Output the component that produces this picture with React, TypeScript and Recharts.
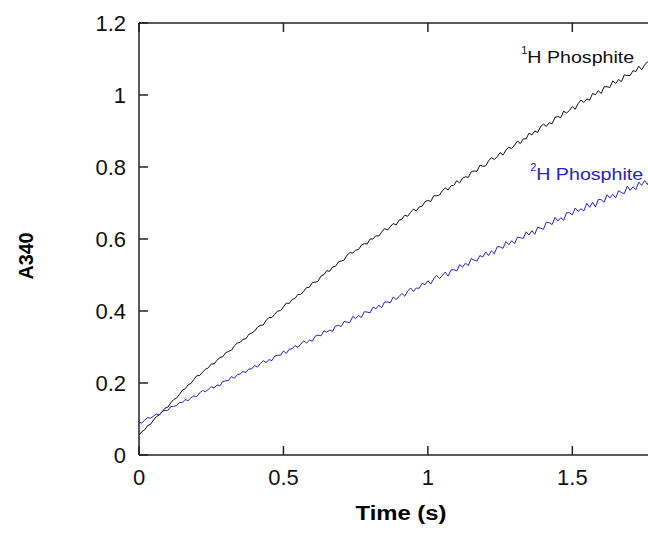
import React from "react";
import { LineChart, Line, XAxis, YAxis, ReferenceDot } from "recharts";

// Time axis (s), sampled every 0.01 s
const TIME_STEP = 0.01;

// 1H Phosphite trace (A340)
const h1Phosphite = [
  0.055, 0.065, 0.070, 0.082, 0.085, 0.097, 0.107, 0.111, 0.120, 0.130,
  0.133, 0.145, 0.154, 0.158, 0.168, 0.180, 0.184, 0.195, 0.199, 0.210,
  0.220, 0.221, 0.230, 0.238, 0.242, 0.253, 0.253, 0.263, 0.271, 0.273,
  0.284, 0.288, 0.291, 0.303, 0.311, 0.313, 0.321, 0.323, 0.335, 0.339,
  0.344, 0.355, 0.360, 0.361, 0.374, 0.382, 0.382, 0.391, 0.400, 0.401,
  0.411, 0.422, 0.421, 0.432, 0.435, 0.446, 0.446, 0.455, 0.465, 0.466,
  0.479, 0.480, 0.483, 0.497, 0.501, 0.512, 0.510, 0.522, 0.524, 0.536,
  0.539, 0.541, 0.555, 0.562, 0.561, 0.569, 0.571, 0.583, 0.587, 0.586,
  0.600, 0.600, 0.609, 0.608, 0.619, 0.629, 0.625, 0.634, 0.643, 0.639,
  0.652, 0.655, 0.666, 0.663, 0.674, 0.683, 0.678, 0.689, 0.691, 0.704,
  0.707, 0.704, 0.720, 0.720, 0.722, 0.734, 0.742, 0.736, 0.748, 0.749,
  0.762, 0.756, 0.769, 0.773, 0.771, 0.787, 0.789, 0.788, 0.805, 0.802,
  0.803, 0.817, 0.826, 0.821, 0.829, 0.840, 0.833, 0.847, 0.855, 0.851,
  0.861, 0.872, 0.865, 0.878, 0.878, 0.894, 0.889, 0.900, 0.896, 0.912,
  0.919, 0.913, 0.923, 0.920, 0.938, 0.940, 0.937, 0.955, 0.950, 0.957,
  0.968, 0.960, 0.976, 0.986, 0.979, 0.989, 0.986, 1.004, 1.001, 1.012,
  1.004, 1.023, 1.023, 1.021, 1.039, 1.032, 1.043, 1.037, 1.056, 1.054,
  1.054, 1.068, 1.065, 1.080, 1.070, 1.083, 1.092, 1.084, 1.096, 1.106,
  1.100,
];

// 2H Phosphite trace (A340)
const h2Phosphite = [
  0.090, 0.089, 0.097, 0.104, 0.102, 0.108, 0.114, 0.111, 0.121, 0.124,
  0.124, 0.135, 0.135, 0.137, 0.146, 0.146, 0.154, 0.151, 0.159, 0.164,
  0.162, 0.173, 0.179, 0.176, 0.182, 0.190, 0.186, 0.195, 0.192, 0.204,
  0.206, 0.207, 0.218, 0.213, 0.223, 0.225, 0.232, 0.229, 0.239, 0.239,
  0.249, 0.244, 0.254, 0.262, 0.257, 0.265, 0.262, 0.275, 0.277, 0.277,
  0.289, 0.282, 0.294, 0.295, 0.304, 0.299, 0.308, 0.317, 0.311, 0.319,
  0.316, 0.330, 0.333, 0.331, 0.345, 0.341, 0.347, 0.343, 0.358, 0.360,
  0.357, 0.371, 0.369, 0.368, 0.385, 0.379, 0.387, 0.382, 0.398, 0.397,
  0.395, 0.411, 0.406, 0.416, 0.409, 0.425, 0.425, 0.423, 0.439, 0.432,
  0.440, 0.449, 0.441, 0.455, 0.464, 0.454, 0.464, 0.463, 0.477, 0.473,
  0.484, 0.475, 0.489, 0.499, 0.490, 0.498, 0.508, 0.497, 0.514, 0.515,
  0.511, 0.529, 0.522, 0.533, 0.526, 0.546, 0.541, 0.539, 0.554, 0.550,
  0.564, 0.554, 0.567, 0.559, 0.579, 0.578, 0.574, 0.593, 0.584, 0.595,
  0.587, 0.605, 0.604, 0.601, 0.620, 0.611, 0.623, 0.613, 0.633, 0.630,
  0.627, 0.647, 0.645, 0.640, 0.660, 0.650, 0.659, 0.652, 0.673, 0.673,
  0.667, 0.686, 0.677, 0.684, 0.678, 0.699, 0.688, 0.702, 0.689, 0.710,
  0.709, 0.702, 0.723, 0.714, 0.724, 0.714, 0.734, 0.729, 0.726, 0.747,
  0.735, 0.745, 0.737, 0.758, 0.749, 0.762, 0.751, 0.772, 0.760, 0.771,
  0.780,
];

const xTicks = [0, 0.5, 1, 1.5];
const yTicks = [0, 0.2, 0.4, 0.6, 0.8, 1, 1.2];
const xDomain = [0, 1.8];
const yDomain = [0, 1.2];

const label1 = { sup: "1", text: "H Phosphite", t: 1.344, a: 1.089 };
const label2 = { sup: "2", text: "H Phosphite", t: 1.375, a: 0.764 };

const data = h1Phosphite.map((v, i) => ({
  t: +(i * TIME_STEP).toFixed(2),
  h1: v,
  h2: h2Phosphite[i],
}));

const FONT = "'Liberation Sans', Arial, Helvetica, sans-serif";
const AXIS = "#222";
const BLUE = "#2323cc";

const BottomTick = (props: any) => {
  const { x, y, payload } = props;
  const ay = y - 30;
  return (
    <g>
      <line x1={x} x2={x} y1={ay} y2={ay - 9} stroke={AXIS} strokeWidth={1.5} />
      <text x={x} y={ay + 30} textAnchor="middle" fontSize={22} fontFamily={FONT} fill="#111">
        {String(payload.value)}
      </text>
    </g>
  );
};

const TopTick = (props: any) => {
  const { x, y } = props;
  return <line x1={x} x2={x} y1={y} y2={y + 9} stroke={AXIS} strokeWidth={1.5} />;
};

const LeftTick = (props: any) => {
  const { x, y, payload } = props;
  const ax = x + 13;
  return (
    <g>
      <line x1={ax} x2={ax + 9} y1={y} y2={y} stroke={AXIS} strokeWidth={1.5} />
      <text x={x} y={y} dy="0.36em" textAnchor="end" fontSize={22} fontFamily={FONT} fill="#111">
        {String(payload.value)}
      </text>
    </g>
  );
};

const RightTick = (props: any) => {
  const { x, y } = props;
  return <line x1={x} x2={x - 9} y1={y} y2={y} stroke={AXIS} strokeWidth={1.5} />;
};

const makeAnnot = (sup: string, text: string, color: string) => (props: any) => {
  const vb = props.viewBox || {};
  const cx = (vb.x ?? 0) + (vb.width ?? 0) / 2;
  const cy = (vb.y ?? 0) + (vb.height ?? 0) / 2;
  return (
    <g>
      <text x={cx - 6} y={cy - 9} fontSize={11} fontFamily={FONT} fill={color}>
        {sup}
      </text>
      <text
        x={cx}
        y={cy}
        fontSize={17}
        fontFamily={FONT}
        fill={color}
        textLength={107}
        lengthAdjust="spacingAndGlyphs"
      >
        {text}
      </text>
    </g>
  );
};

const YTitle = (props: any) => {
  const vb = props.viewBox || {};
  const cx = (vb.x ?? 0) + 26;
  const cy = (vb.y ?? 0) + (vb.height ?? 0) / 2 + 17;
  return (
    <text
      x={cx}
      y={cy}
      transform={`rotate(-90 ${cx} ${cy})`}
      textAnchor="middle"
      dominantBaseline="central"
      fontSize={20}
      fontWeight="bold"
      fontFamily={FONT}
      fill="#000"
      textLength={47}
      lengthAdjust="spacingAndGlyphs"
    >
      A340
    </text>
  );
};

const XTitle = (props: any) => {
  const vb = props.viewBox || {};
  const cx = (vb.x ?? 0) + (vb.width ?? 0) / 2 + 2;
  const cy = (vb.y ?? 0) + 65;
  return (
    <text
      x={cx}
      y={cy}
      textAnchor="middle"
      fontSize={20}
      fontWeight="bold"
      fontFamily={FONT}
      fill="#000"
      textLength={91}
      lengthAdjust="spacingAndGlyphs"
    >
      Time (s)
    </text>
  );
};

export default function App() {
  return (
    <div
      style={{
        position: "absolute",
        left: 0,
        top: 0,
        width: 648,
        height: 534,
        overflow: "hidden",
        background: "#fff",
      }}
    >
      <LineChart
        width={700}
        height={534}
        data={data}
        margin={{ top: 22, right: 40, bottom: 0, left: 0 }}
      >
        <XAxis
          xAxisId="b"
          dataKey="t"
          type="number"
          domain={xDomain}
          ticks={xTicks}
          interval={0}
          orientation="bottom"
          height={79}
          tickSize={0}
          tickMargin={30}
          tickLine={false}
          axisLine={{ stroke: AXIS, strokeWidth: 1.5 }}
          tick={BottomTick}
          label={{ content: XTitle }}
          allowDataOverflow
        />
        <XAxis
          xAxisId="t"
          dataKey="t"
          type="number"
          domain={xDomain}
          ticks={xTicks}
          interval={0}
          orientation="top"
          height={1}
          tickSize={0}
          tickMargin={0}
          tickLine={false}
          axisLine={{ stroke: AXIS, strokeWidth: 1.5 }}
          tick={TopTick}
          allowDataOverflow
        />
        <YAxis
          yAxisId="l"
          type="number"
          domain={yDomain}
          ticks={yTicks}
          interval={0}
          orientation="left"
          width={139}
          tickSize={0}
          tickMargin={13}
          tickLine={false}
          axisLine={{ stroke: AXIS, strokeWidth: 1.5 }}
          tick={LeftTick}
          label={{ content: YTitle }}
          allowDataOverflow
        />
        <YAxis
          yAxisId="r"
          type="number"
          domain={yDomain}
          ticks={yTicks}
          interval={0}
          orientation="right"
          width={1}
          tickSize={0}
          tickMargin={0}
          tickLine={false}
          axisLine={{ stroke: AXIS, strokeWidth: 1.5 }}
          tick={RightTick}
          allowDataOverflow
        />
        <Line
          xAxisId="b"
          yAxisId="l"
          type="linear"
          dataKey="h1"
          stroke="#111"
          strokeWidth={1}
          dot={false}
          isAnimationActive={false}
        />
        <Line
          xAxisId="b"
          yAxisId="l"
          type="linear"
          dataKey="h2"
          stroke={BLUE}
          strokeWidth={1}
          dot={false}
          isAnimationActive={false}
        />
        <ReferenceDot
          xAxisId="b"
          yAxisId="l"
          x={label1.t}
          y={label1.a}
          r={1}
          fill="none"
          stroke="none"
          label={makeAnnot(label1.sup, label1.text, "#111")}
        />
        <ReferenceDot
          xAxisId="b"
          yAxisId="l"
          x={label2.t}
          y={label2.a}
          r={1}
          fill="none"
          stroke="none"
          label={makeAnnot(label2.sup, label2.text, BLUE)}
        />
      </LineChart>
    </div>
  );
}
